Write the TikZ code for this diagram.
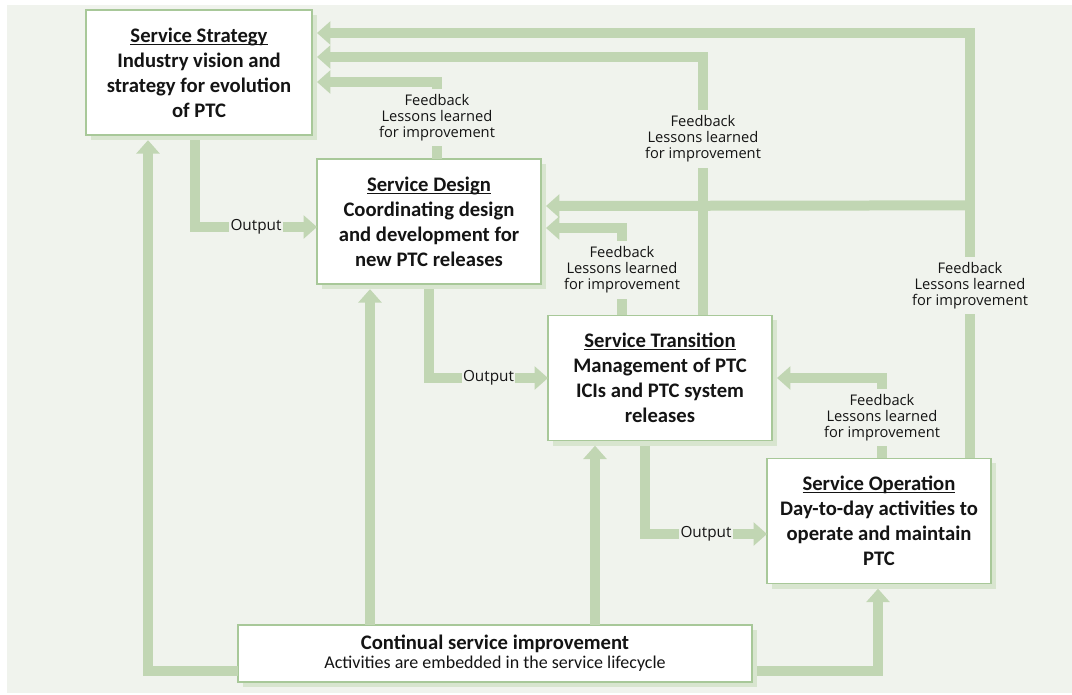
\documentclass[tikz,border=0pt]{standalone}
\usepackage{fontspec}
\setmainfont{Carlito}
\newfontfamily\lblfont{Open Sans}
\usetikzlibrary{arrows.meta,calc,shadows}
\definecolor{bgpanel}{RGB}{240,243,237}
\definecolor{flowgreen}{RGB}{193,214,179}
\definecolor{edgegreen}{RGB}{168,200,153}
\definecolor{shadegreen}{RGB}{216,229,207}
\definecolor{ink}{RGB}{20,20,20}
% underlined stage title, rule close under the baseline
\newcommand\ttl[1]{\setbox0\hbox{#1}\rlap{\rule[-2pt]{\wd0}{1pt}}\box0}

\begin{document}
\begin{tikzpicture}[x=0.75pt,y=-0.75pt,
  stage/.style={draw=edgegreen, line width=1.2pt, fill=white, text=ink, align=center,
     minimum width=168pt, minimum height=94pt, inner sep=0pt, outer sep=0pt,
     font=\bfseries\fontsize{15.5}{18.75}\selectfont,
     drop shadow={shadow xshift=3.75pt, shadow yshift=-3.75pt, fill=shadegreen, opacity=1}},
  flow/.style={draw=flowgreen, line width=7.5pt, -{Triangle[width=17pt,length=10pt]}},
  fbtext/.style={fill=bgpanel, text=ink, align=center, inner xsep=1pt, inner ysep=4pt,
     font=\lblfont\fontsize{11}{12}\selectfont},
  outtext/.style={fill=bgpanel, text=ink, inner xsep=1pt, inner ysep=0pt,
     font=\lblfont\fontsize{11.5}{12}\selectfont}
]
\useasboundingbox (0,0) rectangle (1072,694);
\fill[bgpanel] (7,5) rectangle (1072,693);

% lifecycle stages
\node[stage, minimum width=169.5pt] (strat) at (199,72.5)
  {\ttl{Service Strategy}\\Industry vision and\\strategy for evolution\\of PTC};
\node[stage] (design) at (429,221.5)
  {\ttl{Service Design}\\Coordinating design\\and development for\\new PTC releases};
\node[stage] (trans) at (660,378)
  {\ttl{Service Transition}\\Management of PTC\\ICIs and PTC system\\releases};
\node[stage] (oper) at (879,521)
  {\ttl{Service Operation}\\Day-to-day activities to\\operate and maintain\\PTC};
\node[stage, minimum width=385.5pt, minimum height=42.75pt,
      font=\mdseries\fontsize{13.5}{14.25}\selectfont] (csi) at (495,653.5)
  {{\bfseries\fontsize{15.5}{14.25}\selectfont Continual service improvement}\\
   Activities are embedded in the service lifecycle};

% outputs passed down the lifecycle
\draw[flow] ($(strat.south)+(-4,5)$) |- node[outtext,pos=0.75]{Output} ($(design.west)+(0,5.5)$);
\draw[flow] ($(design.south)+(0,5)$) |- node[outtext,pos=0.75]{Output} (trans.west);
\draw[flow] ($(trans.south)+(-15,5)$) |- node[outtext,pos=0.75]{Output} ($(oper.west)+(0,13)$);

% feedback loops
\draw[flow] ($(design.north)+(8,0)$) |- node[fbtext,pos=0.27]{Feedback\\Lessons learned\\for improvement} ($(strat.east)+(5,9.5)$);
\draw[flow] ($(trans.north)+(43,0)$) |- node[fbtext,pos=0.341]{Feedback\\Lessons learned\\for improvement} ($(strat.east)+(5,-15.5)$);
\draw[flow] ($(oper.north)+(91,0)$) |- node[fbtext,pos=0.203]{Feedback\\Lessons learned\\for improvement} ($(strat.east)+(5,-39.5)$);
\coordinate (fork) at ($(oper.north)+(91,-253)$);
\draw[flow] (fork) -- ($(design.east)+(5,-15.5)$);
\draw[flow] ($(trans.north)+(-38,0)$) |- node[fbtext,pos=0.259]{Feedback\\Lessons learned\\for improvement} ($(design.east)+(5,6.5)$);
\draw[flow] ($(oper.north)+(3,0)$) |- node[fbtext,pos=0.253]{Feedback\\Lessons learned\\for improvement} ($(trans.east)+(5,0)$);

% continual service improvement feeds every stage
\draw[flow] ($(csi.west)+(0,17.5)$) -| ($(strat.south)+(-51,5)$);
\draw[flow] ($(csi.north)+(-125,0)$) -- ($(design.south)+(-59,5)$);
\draw[flow] ($(csi.north)+(100,0)$) -- ($(trans.south)+(-65,5)$);
\draw[flow] ($(csi.east)+(5,17.5)$) -| ($(oper.south)+(-1,5)$);
\end{tikzpicture}
\end{document}
